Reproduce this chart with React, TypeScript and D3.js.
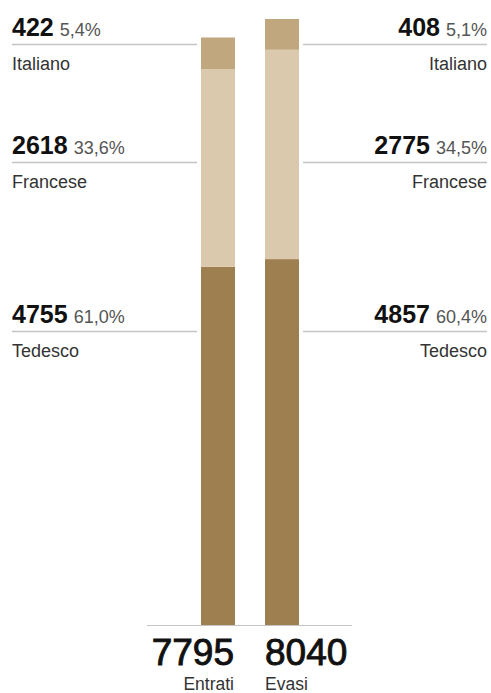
import React, { useEffect } from "react";
import * as d3 from "d3";

const groups = ["Entrati", "Evasi"];
const languages = ["Tedesco", "Francese", "Italiano"];
const entratiValues = [4755, 2618, 422];
const evasiValues = [4857, 2775, 408];
const entratiPct = ["61,0%", "33,6%", "5,4%"];
const evasiPct = ["60,4%", "34,5%", "5,1%"];
const totals = [7795, 8040];

const colors = ["#9d7f50", "#dbc9ae", "#c1a77d"];
const W = 491;
const H = 693;
const FONT = "'Liberation Sans', Arial, Helvetica, sans-serif";

export default function App() {
  useEffect(() => {
    document.body.style.margin = "0";
  }, []);

  const series = [entratiValues, evasiValues];

  const x = d3.scaleBand<string>().domain(groups).range([201, 299]).paddingInner(0.469);
  const y = d3.scaleLinear().domain([0, d3.max(totals) as number]).range([625.5, 19]);

  const stacks = series.map((vals) =>
    vals.map((v, i) => {
      const y0 = d3.sum(vals.slice(0, i));
      return { y0, y1: y0 + v, v, i };
    })
  );

  const labelRows = [331.5, 162.5, 44.5];

  return (
    <svg width={W} height={H} style={{ display: "block" }} fontFamily={FONT}>
      {stacks.map((st, gi) =>
        st.map((s) => (
          <rect
            key={`${gi}-${s.i}`}
            x={x(groups[gi])}
            width={x.bandwidth()}
            y={y(s.y1)}
            height={y(s.y0) - y(s.y1)}
            fill={colors[s.i]}
          />
        ))
      )}
      <line x1={147} x2={352} y1={625.5} y2={625.5} stroke="#c4c4c4" strokeWidth={1.2} />

      {languages.map((lang, i) => {
        const ly = labelRows[i];
        return (
          <g key={lang}>
            <line x1={12} x2={197} y1={ly} y2={ly} stroke="#c4c4c4" strokeWidth={1.3} />
            <text x={12} y={ly - 8.5} fill="#111">
              <tspan fontSize={25} fontWeight="bold">{entratiValues[i]}</tspan>
              <tspan fontSize={18} fill="#555" dx={6}>{entratiPct[i]}</tspan>
            </text>
            <text x={12} y={ly + 25} fontSize={18} fill="#333">{lang}</text>
            <line x1={303} x2={487} y1={ly} y2={ly} stroke="#c4c4c4" strokeWidth={1.3} />
            <text x={487} y={ly - 8.5} fill="#111" textAnchor="end">
              <tspan fontSize={25} fontWeight="bold">{evasiValues[i]}</tspan>
              <tspan fontSize={18} fill="#555" dx={6}>{evasiPct[i]}</tspan>
            </text>
            <text x={487} y={ly + 25} fontSize={18} fill="#333" textAnchor="end">{lang}</text>
          </g>
        );
      })}

      {groups.map((g, gi) => {
        const left = gi === 0;
        const xx = left ? (x(g) as number) + x.bandwidth() - 1 : (x(g) as number);
        return (
          <g key={g}>
            <text x={xx} y={665} fontSize={37} fill="#111" stroke="#111" strokeWidth={0.9} textAnchor={left ? "end" : "start"}>
              {totals[gi]}
            </text>
            <text x={xx} y={690} fontSize={17.5} fill="#333" textAnchor={left ? "end" : "start"}>
              {g}
            </text>
          </g>
        );
      })}
    </svg>
  );
}
